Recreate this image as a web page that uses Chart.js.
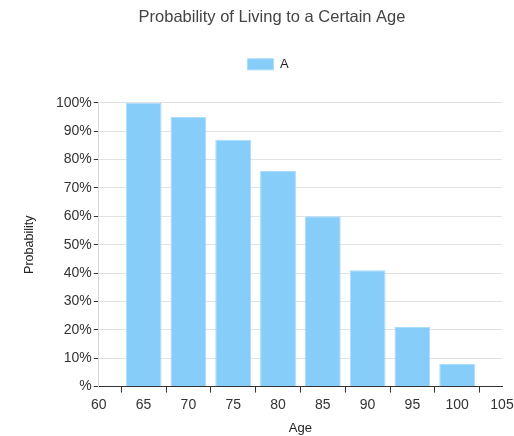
<!DOCTYPE html>
<html>
<head>
<meta charset="utf-8">
<script src="https://cdn.jsdelivr.net/npm/chart.js@4/dist/chart.umd.min.js"></script>
<style>
  html, body { margin: 0; padding: 0; background: #fff; }
  #wrap { width: 514px; height: 436px; }
</style>
</head>
<body>
<div id="wrap"><canvas id="chart"></canvas></div>
<script>
// chart data
var ages = [65, 70, 75, 80, 85, 90, 95, 100];
var probability = [100, 95, 87, 76, 60, 41, 21, 8];
var seriesName = 'A';

var points = [];
for (var i = 0; i < ages.length; i++) {
  points.push({ x: ages[i], y: probability[i] });
}

Chart.defaults.font.family = '"Liberation Sans", Arial, sans-serif';
Chart.defaults.color = '#333';

// extra gap under the legend, and nudge title/legend a bit right like the original
var headerTweak = {
  id: 'headerTweak',
  beforeInit: function (chart) {
    var fit = chart.legend.fit;
    chart.legend.fit = function () {
      fit.bind(chart.legend)();
      this.height += 22;
    };
  },
  afterLayout: function (chart) {
    chart.titleBlock.left += 24;
    chart.legend.left += 8;
    chart.legend.right += 8;
  }
};

var ctx = document.getElementById('chart').getContext('2d');
var chart = new Chart(ctx, {
  type: 'bar',
  data: {
    datasets: [{
      label: seriesName,
      data: points,
      backgroundColor: '#87cdf9',
      borderColor: '#a9dbfb',
      borderWidth: 1,
      categoryPercentage: 1,
      barPercentage: 0.8
    }]
  },
  options: {
    responsive: true,
    maintainAspectRatio: false,
    animation: false,
    layout: { padding: { top: 8, right: 12, left: 18, bottom: 0 } },
    plugins: {
      title: {
        display: true,
        text: 'Probability of Living to a Certain Age',
        font: { size: 16.5, weight: 'normal' },
        color: '#444',
        padding: { top: 0, bottom: 20 }
      },
      legend: {
        labels: {
          boxWidth: 26,
          boxHeight: 11,
          font: { size: 13 },
          color: '#222',
          padding: 10
        }
      },
      tooltip: { enabled: false }
    },
    scales: {
      x: {
        type: 'linear',
        min: 60,
        max: 105,
        offset: false,
        afterFit: function (scale) { scale.paddingRight = 0; },
        ticks: { stepSize: 5, font: { size: 14 }, color: '#333', padding: 4 },
        grid: { drawOnChartArea: false, tickColor: '#333', tickLength: 6 },
        border: { color: '#333' },
        title: { display: true, text: 'Age', font: { size: 13 }, color: '#222', padding: { top: 3, bottom: 0 } }
      },
      y: {
        min: 0,
        max: 100,
        ticks: {
          stepSize: 10,
          font: { size: 14 },
          color: '#333',
          padding: 2,
          callback: function (v) { return v === 0 ? '%' : v + '%'; }
        },
        grid: { color: '#e2e2e2', tickColor: '#333', tickLength: 5 },
        border: { color: '#d8d8d8' },
        title: { display: true, text: 'Probability', font: { size: 12.5 }, color: '#222', padding: { top: 4, bottom: 17 } }
      }
    }
  },
  plugins: [headerTweak]
});
</script>
</body>
</html>
